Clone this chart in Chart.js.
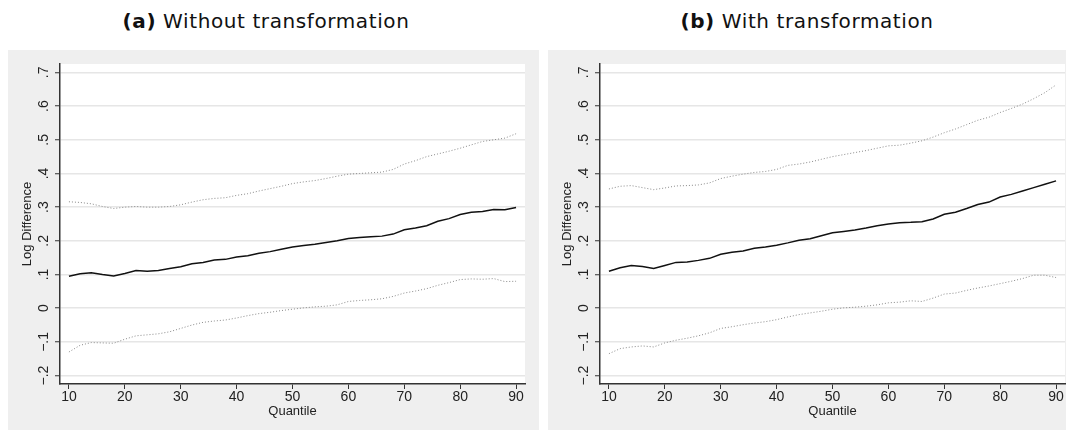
<!DOCTYPE html>
<html>
<head>
<meta charset="utf-8">
<script src="https://cdn.jsdelivr.net/npm/chart.js@4.4.0/dist/chart.umd.min.js"></script>
<style>
  body { margin: 0; background: #fff; width: 1066px; height: 432px; overflow: hidden; position: relative; }
  .title { position: absolute; top: 9px; font-family: "DejaVu Sans", sans-serif; font-size: 20px; line-height: 24px; letter-spacing: 0.6px; text-align: center; color: #111; }
  .title b { font-weight: 700; }
  .panel { position: absolute; top: 50px; width: 531px; height: 380px; background: #efefef; }
</style>
</head>
<body>
<div class="title" style="left:8px;width:516px"><b>(a)</b> Without transformation</div>
<div class="title" style="left:548px;width:518px"><b>(b)</b> With transformation</div>
<div class="panel" style="left:8px"><canvas id="chartA" width="531" height="380"></canvas></div>
<div class="panel" style="left:548px"><canvas id="chartB" width="531" height="380"></canvas></div>
<script>
const quantiles = [10, 12, 14, 16, 18, 20, 22, 24, 26, 28, 30, 32, 34, 36, 38, 40, 42, 44, 46, 48, 50,
  52, 54, 56, 58, 60, 62, 64, 66, 68, 70, 72, 74, 76, 78, 80, 82, 84, 86, 88, 90];

// (a) without transformation
const aEstimate = [.095, .102, .105, .100, .096, .103, .112, .110, .112, .118, .123, .132, .136, .143, .145, .152, .156, .163, .168, .175, .182,
  .186, .190, .195, .200, .207, .210, .212, .214, .220, .233, .238, .245, .258, .266, .278, .285, .287, .293, .292, .299];
const aUpper = [.316, .314, .310, .302, .296, .300, .302, .300, .300, .302, .307, .315, .322, .326, .328, .335, .340, .348, .355, .362, .370,
  .375, .379, .385, .392, .398, .400, .402, .404, .412, .428, .438, .450, .458, .466, .475, .485, .495, .500, .505, .518];
const aLower = [-.130, -.110, -.102, -.103, -.104, -.092, -.082, -.079, -.076, -.070, -.060, -.050, -.042, -.038, -.035, -.029, -.022, -.016, -.012, -.007, -.003,
  .001, .004, .006, .010, .020, .023, .025, .028, .035, .045, .051, .058, .068, .076, .085, .087, .086, .088, .079, .080];

// (b) with transformation
const bEstimate = [.110, .120, .127, .124, .118, .127, .136, .137, .142, .148, .160, .166, .170, .178, .182, .187, .194, .202, .206, .215, .224,
  .228, .232, .238, .245, .250, .254, .255, .257, .265, .279, .285, .296, .308, .315, .330, .338, .348, .358, .368, .378];
const bUpper = [.354, .362, .364, .358, .352, .357, .363, .364, .366, .372, .385, .392, .398, .403, .406, .412, .424, .428, .434, .442, .450,
  .456, .462, .468, .475, .482, .484, .490, .497, .508, .521, .532, .545, .558, .567, .581, .593, .606, .622, .640, .663];
const bLower = [-.135, -.120, -.115, -.112, -.115, -.103, -.095, -.089, -.082, -.073, -.060, -.055, -.049, -.044, -.040, -.034, -.026, -.019, -.014, -.009, -.003,
  .001, .003, .006, .010, .016, .018, .022, .020, .030, .042, .045, .053, .060, .066, .073, .080, .088, .098, .098, .091];

const xTicks = [10, 20, 30, 40, 50, 60, 70, 80, 90];
const yTicks = [-0.2, -0.1, 0, 0.1, 0.2, 0.3, 0.4, 0.5, 0.6, 0.7];
const yTickLabels = ['\u2212.2', '\u2212.1', '0', '.1', '.2', '.3', '.4', '.5', '.6', '.7'];

const axisFont = '"Liberation Sans", Arial, sans-serif';

// white plot region + rotated y tick labels (Stata style)
const plotFrame = {
  id: 'plotFrame',
  beforeDraw(chart) {
    const { ctx, chartArea: a } = chart;
    ctx.save();
    ctx.fillStyle = '#fff';
    ctx.fillRect(a.left, a.top, a.right - a.left, a.bottom - a.top);
    ctx.restore();
  },
  afterDraw(chart) {
    const { ctx } = chart;
    const y = chart.scales.y;
    ctx.save();
    ctx.font = '14px ' + axisFont;
    ctx.fillStyle = '#222';
    ctx.textAlign = 'center';
    ctx.textBaseline = 'middle';
    yTicks.forEach((v, i) => {
      ctx.save();
      ctx.translate(chart.chartArea.left - 16, y.getPixelForValue(v));
      ctx.rotate(-Math.PI / 2);
      ctx.fillText(yTickLabels[i], 0, 0);
      ctx.restore();
    });
    ctx.restore();
  }
};

function toPoints(values) {
  return quantiles.map((q, i) => ({ x: q, y: values[i] }));
}

function makeChart(id, est, upper, lower) {
  const bandStyle = { borderColor: '#8a8a8a', borderWidth: 1, borderDash: [1, 2] };
  return new Chart(document.getElementById(id), {
    type: 'line',
    data: {
      datasets: [
        { data: toPoints(upper), ...bandStyle },
        { data: toPoints(lower), ...bandStyle },
        { data: toPoints(est), borderColor: '#111', borderWidth: 1.5 }
      ]
    },
    options: {
      responsive: false,
      animation: false,
      layout: { padding: { top: 14, right: 14, left: 0, bottom: 0 } },
      elements: { point: { radius: 0 }, line: { tension: 0 } },
      plugins: { legend: { display: false }, tooltip: { enabled: false } },
      scales: {
        x: {
          type: 'linear',
          min: 8.4,
          max: 91.6,
          afterBuildTicks: s => { s.ticks = xTicks.map(v => ({ value: v })); },
          afterFit: s => { s.height = 46; },
          grid: { drawOnChartArea: false, tickLength: 5, tickColor: '#333', tickWidth: 1 },
          border: { color: '#333', width: 1.5 },
          ticks: { padding: 0, color: '#222', font: { family: axisFont, size: 14 } },
          title: { display: true, text: 'Quantile', color: '#222', padding: { top: 0, bottom: 11 }, font: { family: axisFont, size: 13 } }
        },
        y: {
          min: -0.225,
          max: 0.725,
          afterBuildTicks: s => { s.ticks = yTicks.map(v => ({ value: v })); },
          afterFit: s => { s.width = 52; },
          grid: { color: '#e6e6e6', lineWidth: 1.5, tickLength: 5, tickColor: '#333', tickWidth: 1 },
          border: { color: '#333', width: 1.5 },
          ticks: { display: false },
          title: { display: true, text: 'Log Difference', color: '#222', padding: { top: 12, bottom: 0 }, font: { family: axisFont, size: 13 } }
        }
      }
    },
    plugins: [plotFrame]
  });
}

makeChart('chartA', aEstimate, aUpper, aLower);
makeChart('chartB', bEstimate, bUpper, bLower);
</script>
</body>
</html>
